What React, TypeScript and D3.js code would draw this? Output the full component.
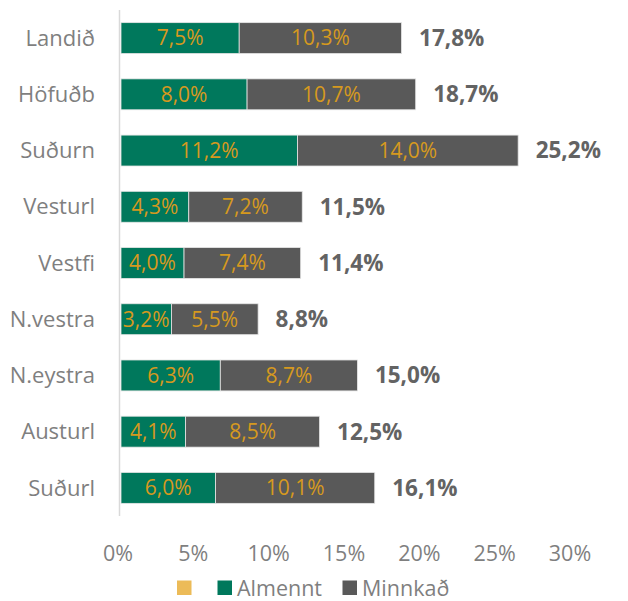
import React from "react";
import * as d3 from "d3";

const categories = ["Landið", "Höfuðb", "Suðurn", "Vesturl", "Vestfi", "N.vestra", "N.eystra", "Austurl", "Suðurl"];
const almennt = [7.5, 8.0, 11.2, 4.3, 4.0, 3.2, 6.3, 4.1, 6.0];
const minnkad = [10.3, 10.7, 14.0, 7.2, 7.4, 5.5, 8.7, 8.5, 10.1];
const totals = [17.8, 18.7, 25.2, 11.5, 11.4, 8.8, 15.0, 12.5, 16.1];
const tickValues = [0, 5, 10, 15, 20, 25, 30];
const legendItems = [
  { label: "", color: "#ECBB58" },
  { label: "Almennt", color: "#00785C" },
  { label: "Minnkað", color: "#595959" },
];

const fmt = (v: number) => v.toFixed(1).replace(".", ",") + "%";

export default function App() {
  const W = 628, H = 601;
  const font = "'Open Sans', 'Noto Sans', sans-serif";
  const x = d3.scaleLinear().domain([0, 30]).range([121, 593.8]);
  const xTick = d3.scaleLinear().domain([0, 30]).range([118, 570]);
  const y = d3.scaleBand().domain(categories).range([10, 516]).paddingInner(0.45).paddingOuter(0.225);
  const bh = y.bandwidth();
  const labelColor = "#D6991E";
  const greyText = "#7F7F7F";
  return (
    <svg width={W} height={H} style={{ position: "absolute", left: 0, top: 0, background: "#fff" }}>
      <line x1={119.5} x2={119.5} y1={10} y2={516} stroke="#D9D9D9" strokeWidth={1.5} />
      {categories.map((c, i) => {
        const y0 = y(c)!;
        const cy = y0 + bh / 2;
        const a = almennt[i], m = minnkad[i];
        return (
          <g key={c}>
            <text x={95} y={cy} dy="0.35em" textAnchor="end" fontFamily={font} fontSize={22} fill={greyText}>{c}</text>
            <rect x={x(0)} y={y0} width={x(a) - x(0)} height={bh} fill="#00785C" stroke="#E6E6E6" strokeWidth={0.8} />
            <rect x={x(a)} y={y0} width={x(a + m) - x(a)} height={bh} fill="#595959" stroke="#E6E6E6" strokeWidth={0.8} />
            <text x={(x(0) + x(a)) / 2} y={cy} dy="0.35em" textAnchor="middle" fontFamily={font} fontSize={21} fill={labelColor}>{fmt(a)}</text>
            <text x={(x(a) + x(a + m)) / 2} y={cy} dy="0.35em" textAnchor="middle" fontFamily={font} fontSize={21} fill={labelColor}>{fmt(m)}</text>
            <text x={x(a + m) + 17.5} y={cy} dy="0.35em" textAnchor="start" fontFamily={font} fontSize={22.5} fontWeight="bold" fill="#636363">{fmt(totals[i])}</text>
          </g>
        );
      })}
      {tickValues.map((t) => (
        <text key={t} x={xTick(t)} y={553} dy="0.35em" textAnchor="middle" fontFamily={font} fontSize={21.5} fill={greyText}>{t + "%"}</text>
      ))}
      <g>
        <rect x={177} y={580.5} width={14.5} height={14.5} fill={legendItems[0].color} />
        <rect x={217.5} y={580.5} width={14.5} height={14.5} fill={legendItems[1].color} />
        <text x={237} y={588} dy="0.35em" fontFamily={font} fontSize={21.5} fill={greyText}>{legendItems[1].label}</text>
        <rect x={342.5} y={580.5} width={14.5} height={14.5} fill={legendItems[2].color} />
        <text x={362} y={588} dy="0.35em" fontFamily={font} fontSize={21.5} fill={greyText}>{legendItems[2].label}</text>
      </g>
    </svg>
  );
}
